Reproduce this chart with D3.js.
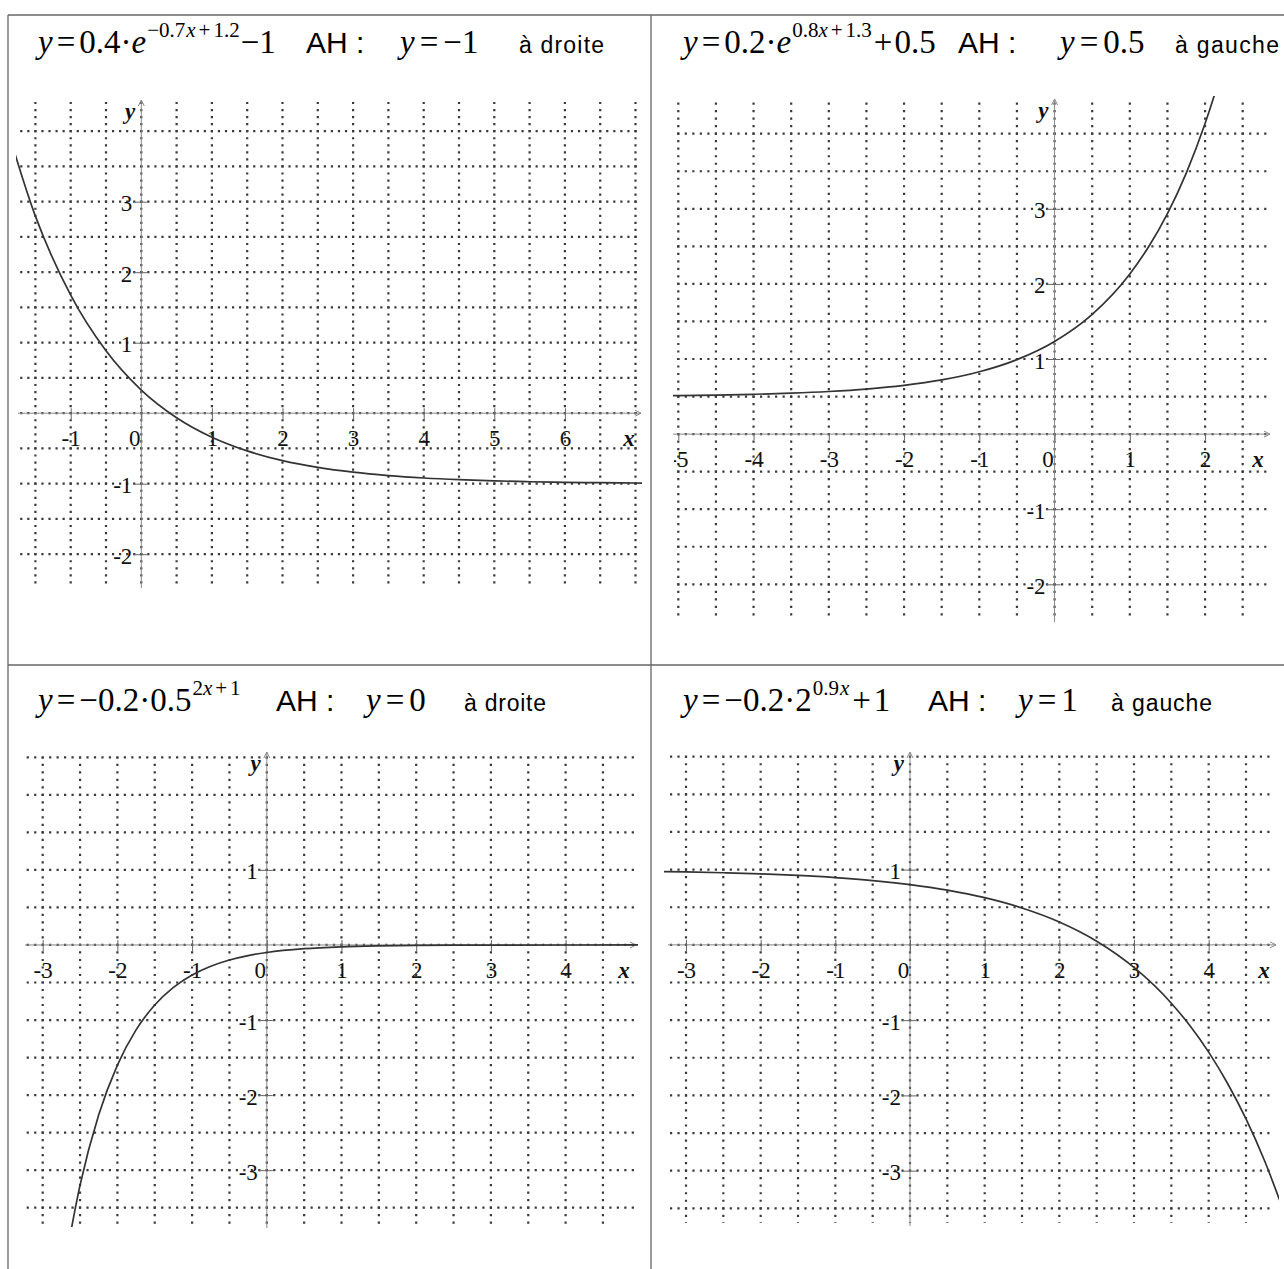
<!DOCTYPE html>
<html>
<head>
<meta charset="utf-8">
<script src="https://cdn.jsdelivr.net/npm/d3@7"></script>
<style>
  html, body { margin: 0; padding: 0; background: #fff; }
  svg { display: block; }
</style>
</head>
<body>
<svg id="chart" width="1284" height="1269"></svg>
<script>
// ---------- curve samples [x, y] ----------
const curve1 = [[-2,4.386],[-1.5,2.795],[-1,1.674],[-0.5,0.885],[0,0.328],[0.5,-0.064],[1,-0.341],
  [1.5,-0.535],[2,-0.673],[2.5,-0.769],[3,-0.837],[3.5,-0.885],[4,-0.919],[4.5,-0.943],[5,-0.960],
  [5.5,-0.972],[6,-0.980],[6.5,-0.986],[7,-0.990],[7.5,-0.993]];
const curve2 = [[-5.5,0.509],[-5,0.513],[-4.5,0.520],[-4,0.530],[-3.5,0.545],[-3,0.567],[-2.5,0.599],
  [-2,0.648],[-1.5,0.721],[-1,0.830],[-0.5,0.992],[0,1.234],[0.5,1.595],[1,2.133],[1.25,2.495],
  [1.5,2.937],[1.75,3.476],[2,4.135],[2.25,4.940],[2.5,5.923]];
const curve3 = [[-2.75,-4.525],[-2.5,-3.2],[-2.25,-2.263],[-2,-1.6],[-1.75,-1.131],[-1.5,-0.8],
  [-1.25,-0.566],[-1,-0.4],[-0.75,-0.283],[-0.5,-0.2],[-0.25,-0.141],[0,-0.1],[0.5,-0.05],[1,-0.025],
  [1.5,-0.0125],[2,-0.006],[2.5,-0.003],[3,-0.0016],[4,-0.0004],[5,-0.0001]];
const curve4 = [[-3.5,0.977],[-3,0.969],[-2.5,0.958],[-2,0.943],[-1.5,0.922],[-1,0.893],[-0.5,0.854],
  [0,0.8],[0.5,0.727],[1,0.627],[1.5,0.490],[2,0.304],[2.5,0.049],[3,-0.300],[3.5,-0.775],
  [3.75,-1.075],[4,-1.425],[4.25,-1.835],[4.5,-2.313],[4.75,-2.872],[5,-3.525]];

// ---------- tick labels ----------
const xTicks1 = [-1,0,1,2,3,4,5,6];
const yTicks1 = [-2,-1,1,2,3];
const xTicks2 = [-5,-4,-3,-2,-1,0,1,2];
const yTicks2 = [-2,-1,1,2,3];
const xTicks3 = [-3,-2,-1,0,1,2,3,4];
const yTicks3 = [-3,-2,-1,1];
const xTicks4 = [-3,-2,-1,0,1,2,3,4];
const yTicks4 = [-3,-2,-1,1];

// ---------- headings: [text, style, gap after] ----------
const formula1 = [["y","i",4],["=","",4],["0.4·","",0],["e","i",1],["−0.7","s",1],["x","si",3],["+","s",3],["1.2","s",1],["−1","",0]];
const formula2 = [["y","i",4],["=","",4],["0.2·","",0],["e","i",1],["0.8","s",0],["x","si",3],["+","s",3],["1.3","s",2],["+","",2],["0.5","",0]];
const formula3 = [["y","i",4],["=","",4],["−0.2·0.5","",1],["2","s",0],["x","si",3],["+","s",3],["1","s",0]];
const formula4 = [["y","i",4],["=","",4],["−0.2·2","",1],["0.9","s",1],["x","si",3],["+","",3],["1","",0]];
const asym1 = [["y","i",5],["=","",5],["−1","",0]];
const asym2 = [["y","i",5],["=","",5],["0.5","",0]];
const asym3 = [["y","i",5],["=","",5],["0","",0]];
const asym4 = [["y","i",5],["=","",5],["1","",0]];
const side1 = "à droite", side2 = "à gauche", side3 = "à droite", side4 = "à gauche";

const SERIF = "'Liberation Serif','Times New Roman',serif";
const SANS = "'Liberation Sans',Arial,sans-serif";

// ---------- panel layout ----------
const panels = [
  { curve: curve1, xTicks: xTicks1, yTicks: yTicks1,
    xDom: [-1.5, 7], xRange: [35.4, 635.5], yDom: [-2, 4], yRange: [554.2, 131.2],
    vSpan: [100, 584], hSpan: [18, 640], xAxis: [18, 641], yAxis: [100, 588],
    clip: [16, 96, 642, 592], labelLeft: null,
    head: { base: 53, fx: 38, ahx: 306, ax: 400, sx: 519, sw: 85, formula: formula1, asym: asym1, side: side1 } },
  { curve: curve2, xTicks: xTicks2, yTicks: yTicks2,
    xDom: [-5, 2.5], xRange: [678.3, 1242.7], yDom: [-2, 4], yRange: [584.3, 133.7],
    vSpan: [100, 618], hSpan: [673, 1268], xAxis: [673, 1270], yAxis: [99, 622],
    clip: [673, 96, 1272, 624], labelLeft: 674,
    head: { base: 53, fx: 683, ahx: 958, ax: 1060, sx: 1175, sw: 104, formula: formula2, asym: asym2, side: side2 } },
  { curve: curve3, xTicks: xTicks3, yTicks: yTicks3,
    xDom: [-3, 4.5], xRange: [42.7, 602.95], yDom: [-3.5, 2.5], yRange: [1207.7, 757.3],
    vSpan: [757, 1225], hSpan: [25, 635], xAxis: [25, 636], yAxis: [752, 1228],
    clip: [22, 748, 638, 1227], labelLeft: null,
    head: { base: 711, fx: 38, ahx: 276, ax: 366, sx: 464, sw: 82, formula: formula3, asym: asym3, side: side3 } },
  { curve: curve4, xTicks: xTicks4, yTicks: yTicks4,
    xDom: [-3, 4.5], xRange: [686, 1246], yDom: [-3.5, 2.5], yRange: [1208.3, 756.7],
    vSpan: [757, 1223], hSpan: [668, 1273], xAxis: [668, 1276], yAxis: [752, 1226],
    clip: [664, 748, 1279, 1226], labelLeft: null,
    head: { base: 711, fx: 683, ahx: 928, ax: 1018, sx: 1111, sw: 101, formula: formula4, asym: asym4, side: side4 } }
];

const svg = d3.select("#chart");
const defs = svg.append("defs");
const DOT = 2.2;

// lays out a run of math tokens (italic / superscript) left to right
function mathRun(g, x0, base, tokens) {
  let cx = x0;
  tokens.forEach(([s, st, gap]) => {
    const sup = st.includes("s");
    const it = st.includes("i");
    const t = g.append("text")
      .attr("x", cx).attr("y", sup ? base - 16 : base)
      .attr("font-family", SERIF)
      .attr("font-size", sup ? 21 : 33)
      .attr("font-style", it ? "italic" : "normal")
      .attr("fill", "#000")
      .text(s);
    cx += t.node().getComputedTextLength() + gap;
  });
  return cx;
}

panels.forEach((p, i) => {
  const g = svg.append("g").attr("class", "panel-" + (i + 1));
  const x = d3.scaleLinear().domain(p.xDom).range(p.xRange);
  const y = d3.scaleLinear().domain(p.yDom).range(p.yRange);

  // dotted grid every half unit
  const stepX = (x(0.5) - x(0)) / 5;
  const stepY = (y(0) - y(0.5)) / 5;
  const grid = g.append("g").attr("stroke", "#3a3a3a").attr("stroke-width", 2.2).attr("fill", "none");
  const gx = d3.range(p.xDom[0], p.xDom[1] + 1e-9, 0.5);
  const gy = d3.range(p.yDom[0], p.yDom[1] + 1e-9, 0.5);
  const phaseV = (((y(0) - p.vSpan[0]) % stepY) + stepY) % stepY;
  grid.selectAll("line.v").data(gx).join("line").attr("class", "v")
    .attr("x1", d => x(d)).attr("x2", d => x(d))
    .attr("y1", p.vSpan[0]).attr("y2", p.vSpan[1])
    .attr("stroke-dasharray", `${DOT},${stepY - DOT}`)
    .attr("stroke-dashoffset", DOT / 2 - phaseV);
  const phaseH = (((x(0) - p.hSpan[0]) % stepX) + stepX) % stepX;
  grid.selectAll("line.h").data(gy).join("line").attr("class", "h")
    .attr("y1", d => y(d)).attr("y2", d => y(d))
    .attr("x1", p.hSpan[0]).attr("x2", p.hSpan[1])
    .attr("stroke-dasharray", `${DOT},${stepX - DOT}`)
    .attr("stroke-dashoffset", DOT / 2 - phaseH);

  // axis lines with small arrow heads
  const axes = g.append("g").attr("stroke", "#888").attr("stroke-width", 1).attr("fill", "none");
  axes.append("line").attr("x1", p.xAxis[0]).attr("x2", p.xAxis[1]).attr("y1", y(0)).attr("y2", y(0));
  axes.append("line").attr("x1", x(0)).attr("x2", x(0)).attr("y1", p.yAxis[0]).attr("y2", p.yAxis[1]);
  axes.append("path").attr("d", `M${p.xAxis[1] - 6},${y(0) - 3}L${p.xAxis[1]},${y(0)}L${p.xAxis[1] - 6},${y(0) + 3}`);
  axes.append("path").attr("d", `M${x(0) - 3},${p.yAxis[0] + 6}L${x(0)},${p.yAxis[0]}L${x(0) + 3},${p.yAxis[0] + 6}`);

  // ticks and numbers
  const xa = g.append("g").attr("transform", `translate(0,${y(0)})`)
    .call(d3.axisBottom(x).tickValues(p.xTicks).tickFormat(d => String(d)));
  xa.select(".domain").remove();
  xa.selectAll(".tick line").attr("y1", -5).attr("y2", 6).attr("stroke", "#666");
  xa.selectAll(".tick text").attr("y", 33).attr("dy", null)
    .attr("dx", d => d === 0 ? -7 : 0)
    .attr("font-family", SERIF).attr("font-size", 23).attr("fill", "#111");
  if (p.labelLeft !== null) {
    const cid = "lc" + i;
    defs.append("clipPath").attr("id", cid).append("rect")
      .attr("x", p.labelLeft).attr("y", 0).attr("width", 2000).attr("height", 2000);
    xa.attr("clip-path", `url(#${cid})`);
  }

  const ya = g.append("g").attr("transform", `translate(${x(0)},0)`)
    .call(d3.axisLeft(y).tickValues(p.yTicks).tickFormat(d => String(d)));
  ya.select(".domain").remove();
  ya.selectAll(".tick line").attr("x1", -8).attr("x2", 6).attr("stroke", "#666");
  ya.selectAll(".tick text").attr("x", -9).attr("y", 9).attr("dy", null)
    .attr("font-family", SERIF).attr("font-size", 23).attr("fill", "#111");

  // axis names
  g.append("text").attr("x", x(0) - 6).attr("y", p.yAxis[0] + 19)
    .attr("text-anchor", "end").attr("font-family", SERIF).attr("font-size", 23)
    .attr("font-style", "italic").attr("font-weight", "bold").attr("fill", "#111").text("y");
  g.append("text").attr("x", p.xAxis[1] - 12).attr("y", y(0) + 33)
    .attr("text-anchor", "middle").attr("font-family", SERIF).attr("font-size", 23)
    .attr("font-style", "italic").attr("font-weight", "bold").attr("fill", "#111").text("x");

  // the curve
  const cid = "cc" + i;
  defs.append("clipPath").attr("id", cid).append("rect")
    .attr("x", p.clip[0]).attr("y", p.clip[1])
    .attr("width", p.clip[2] - p.clip[0]).attr("height", p.clip[3] - p.clip[1]);
  const line = d3.line().x(d => x(d[0])).y(d => y(d[1])).curve(d3.curveMonotoneX);
  g.append("path").datum(p.curve).attr("clip-path", `url(#${cid})`)
    .attr("d", line).attr("fill", "none").attr("stroke", "#333").attr("stroke-width", 1.7);

  // heading: formula, asymptote, side
  const h = p.head;
  const hg = g.append("g");
  mathRun(hg, h.fx, h.base, h.formula);
  hg.append("text").attr("x", h.ahx).attr("y", h.base).attr("font-family", SANS)
    .attr("font-size", 30).attr("fill", "#000").text("AH");
  hg.append("text").attr("x", h.ahx + 50).attr("y", h.base).attr("font-family", SANS)
    .attr("font-size", 30).attr("fill", "#000").text(":");
  mathRun(hg, h.ax, h.base, h.asym);
  hg.append("text").attr("x", h.sx).attr("y", h.base).attr("font-family", SANS)
    .attr("font-size", 23).attr("fill", "#000")
    .attr("textLength", h.sw).attr("lengthAdjust", "spacing").text(h.side);
});

// table rules
const rules = svg.append("g").attr("stroke", "#666").attr("stroke-width", 1.3);
rules.append("line").attr("x1", 8).attr("x2", 1284).attr("y1", 15).attr("y2", 15);
rules.append("line").attr("x1", 8).attr("x2", 8).attr("y1", 15).attr("y2", 1269);
rules.append("line").attr("x1", 651).attr("x2", 651).attr("y1", 15).attr("y2", 1269);
rules.append("line").attr("x1", 8).attr("x2", 1284).attr("y1", 665).attr("y2", 665);
</script>
</body>
</html>
